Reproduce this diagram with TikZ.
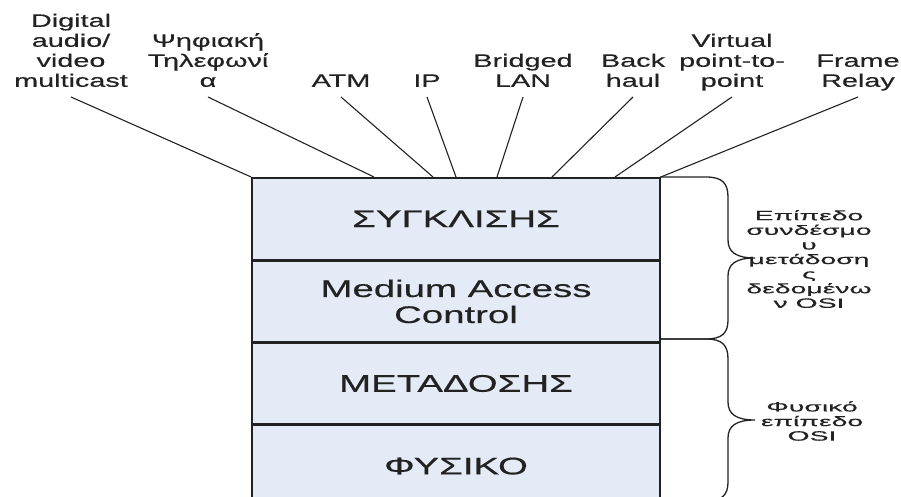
\documentclass[tikz,border=0pt]{standalone}
\usepackage{fontspec}
\setmainfont{Liberation Sans}
\newfontfamily\wideA[FakeStretch=1.6,FakeBold=0.4]{Liberation Sans}
\newfontfamily\wideB[FakeStretch=2.1,FakeBold=0.4]{Liberation Sans}
\newcommand\boxfont{\wideA\fontsize{24}{26}\selectfont}
\newcommand\labfont{\wideA\fontsize{18}{20}\selectfont}
\newcommand\osifont{\wideB\fontsize{13.5}{14.6}\selectfont}
\usetikzlibrary{calc}
\definecolor{layerfill}{HTML}{E4EBF6}
\definecolor{ink}{HTML}{222222}
\begin{document}
\begin{tikzpicture}[x=1pt,y=-1pt,
  layer/.style={draw=ink, line width=1.6pt, fill=layerfill, minimum width=408pt,
    inner sep=0pt, anchor=north, font=\boxfont, align=center, text=ink},
  proto/.style={anchor=south, inner xsep=0pt, inner ysep=4pt, align=center,
    font=\labfont, text=ink},
  link/.style={draw=ink, line width=1.1pt},
  brace/.style={draw=ink, line width=1.3pt},
  osi/.style={align=center, font=\osifont, text=ink, inner sep=0pt}]
\useasboundingbox (0,0) rectangle (901,497);
\clip (0,0) rectangle (901,497);

% protocol stack
\node[layer, minimum height=82pt] (conv)  at (456,177)    {ΣΥΓΚΛΙΣΗΣ};
\node[layer, minimum height=80pt] (mac)   at (conv.south) {Medium Access\\Control};
\node[layer, minimum height=81pt] (trans) at (mac.south)  {ΜΕΤΑΔΟΣΗΣ};
\node[layer, minimum height=81pt] (phys)  at (trans.south){ΦΥΣΙΚΟ};

% services on top of the convergence sublayer
\node[proto] (dav)  at (71,97)  {Digital\\audio/\\video\\multicast\strut};
\node[proto] (tel)  at (208,97) {Ψηφιακή\\Τηλεφωνί\\α\strut};
\node[proto] (atm)  at (341,97) {ATM\strut};
\node[proto] (ip)   at (427,97) {IP\strut};
\node[proto] (blan) at (523,97) {Bridged\\LAN\strut};
\node[proto] (bh)   at (633,97) {Back\\haul\strut};
\node[proto] (vpp)  at (732,97) {Virtual\\point-to-\\point\strut};
\node[proto] (fr)   at (858,97) {Frame\\Relay\strut};

\coordinate (e1) at (conv.north west);
\coordinate (e2) at (374,177);
\coordinate (e3) at (433,177);
\coordinate (e4) at (456,177);
\coordinate (e5) at (497,177);
\coordinate (e6) at (552,177);
\coordinate (e7) at (615,177);
\coordinate (e8) at (conv.north east);

\draw[link] (dav.south)  -- (e1);
\draw[link] (tel.south)  -- (e2);
\draw[link] (atm.south)  -- (e3);
\draw[link] (ip.south)   -- (e4);
\draw[link] (blan.south) -- (e5);
\draw[link] (bh.south)   -- (e6);
\draw[link] (vpp.south)  -- (e7);
\draw[link] (fr.south)   -- (e8);

% braces mapping the sublayers to the OSI layers
\draw[brace] (660,177) -- (706,177) .. controls (722,177) and (728,183) .. (728,197)
  -- (728,240) .. controls (728,252) and (736,258) .. (755,258)
  .. controls (736,258) and (728,264) .. (728,276)
  -- (728,320) .. controls (728,333) and (722,339) .. (706,339) -- (660,339);
\draw[brace] (660,339) -- (706,339) .. controls (722,339) and (728,345) .. (728,359)
  -- (728,402) .. controls (728,414) and (736,420) .. (755,420)
  .. controls (736,420) and (728,426) .. (728,438)
  -- (728,482) .. controls (728,495) and (722,501) .. (706,501) -- (660,501);

\node[osi] (dll) at (809,259) {Επίπεδο\\συνδέσμο\\υ\\μετάδοση\\ς\\δεδομένω\\ν OSI};
\node[osi] (phy) at (812,421) {Φυσικό\\επίπεδο\\OSI};
\end{tikzpicture}
\end{document}
